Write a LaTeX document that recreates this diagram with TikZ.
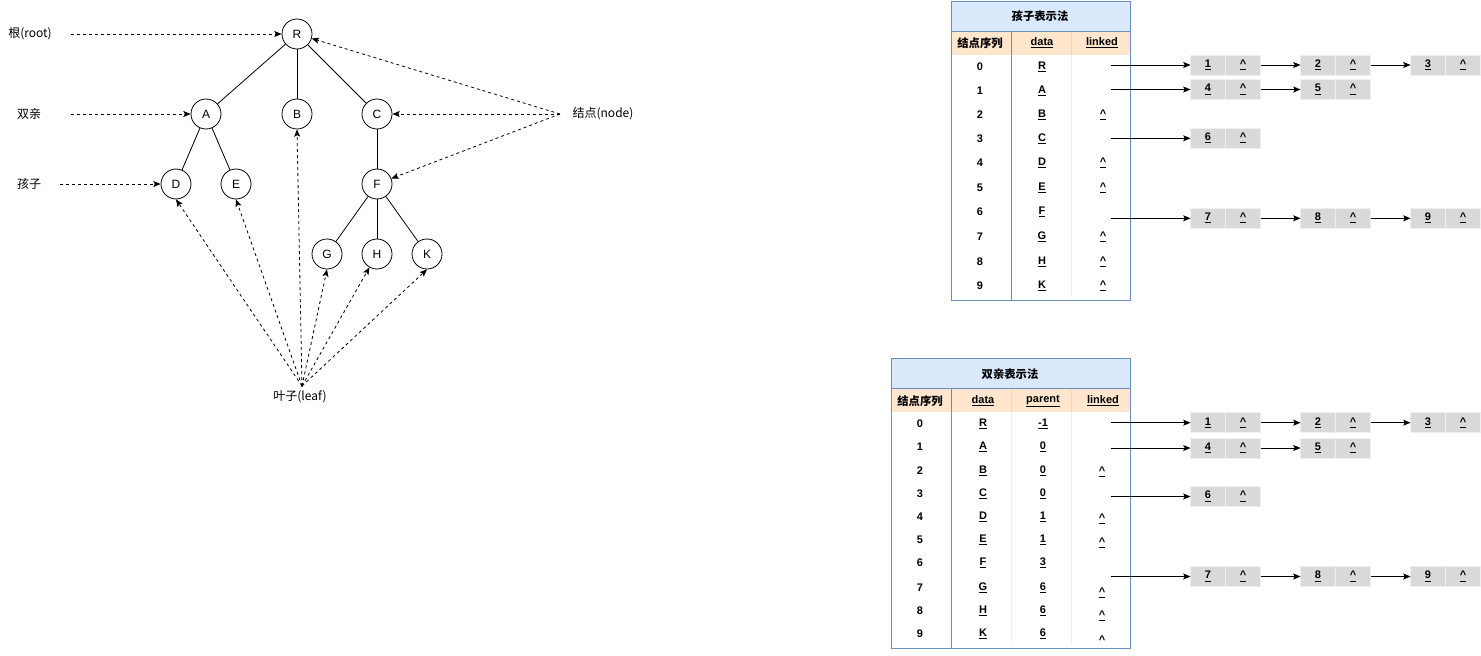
\documentclass[tikz,border=0pt]{standalone}
\usepackage{fontspec}
\setmainfont{Liberation Sans}
\newfontfamily\cjk{Noto Sans CJK SC}
\usetikzlibrary{positioning,arrows.meta}
\definecolor{hdrblue}{HTML}{DAE8FC}
\definecolor{hdrline}{HTML}{6C8EBF}
\definecolor{colhdr}{HTML}{FFE6CC}
\definecolor{colsep}{HTML}{F5D9BC}
\tikzset{
  tnode/.style={draw,circle,minimum size=22.5pt,inner sep=0pt,font=\fontsize{9}{11}\selectfont},
  lbl/.style={font=\cjk\fontsize{9}{11}\selectfont,inner sep=1pt},
  hint/.style={->,dash pattern=on 2.25pt off 2.25pt},
  cellt/.style={font=\bfseries\fontsize{8.25}{10}\selectfont,inner sep=1pt},
  cjkt/.style={font=\cjk\bfseries\fontsize{8.5}{10}\selectfont,inner sep=1pt},
  lcell/.style={fill=gray!30,draw=gray!12,minimum width=26.25pt,minimum height=15pt,inner sep=0pt,outer sep=0pt,font=\bfseries\fontsize{8.25}{10}\selectfont},
}
\newcommand{\nil}{\underline{\textasciicircum}}
\begin{document}
\begin{tikzpicture}[x=0.75pt,y=-0.75pt,semithick,>={Stealth[length=5.5pt,width=4.5pt,inset=1.2pt]}]
\useasboundingbox (0,0) rectangle (1481,656);
% tree
\node[tnode] (R) at (297,34) {R};
\node[tnode] (A) at (206,114) {A};
\node[tnode] (B) at (297,114) {B};
\node[tnode] (C) at (377,114) {C};
\node[tnode] (D) at (176,184) {D};
\node[tnode] (E) at (236,184) {E};
\node[tnode] (F) at (377,184) {F};
\node[tnode] (G) at (327,254) {G};
\node[tnode] (H) at (377,254) {H};
\node[tnode] (K) at (427,254) {K};
\draw (R) -- (A);
\draw (R) -- (B);
\draw (R) -- (C);
\draw (A) -- (D);
\draw (A) -- (E);
\draw (C) -- (F);
\draw (F) -- (G);
\draw (F) -- (H);
\draw (F) -- (K);
\node[lbl] (rootlbl) at (30,34) {根(root)};
\node[lbl] (parlbl) at (29,114) {双亲};
\node[lbl] (kidlbl) at (29,184) {孩子};
\node[lbl] (nodelbl) at (603,114) {结点(node)};
\node[lbl] (leaflbl) at (300,397) {叶子(leaf)};
\coordinate (rootfrom) at (71,34);
\coordinate (parfrom) at (71,114);
\coordinate (kidfrom) at (60,184);
\coordinate (nodefrom) at (560,114);
\coordinate (leafpt) at (302,386);
\draw[hint] (rootfrom) -- (R);
\draw[hint] (parfrom) -- (A);
\draw[hint] (kidfrom) -- (D);
\draw[hint] (nodefrom) -- (R);
\draw[hint] (nodefrom) -- (C);
\draw[hint] (nodefrom) -- (F);
\fill (leafpt) circle (1.2);
\draw[hint] (leafpt) -- (D.south);
\draw[hint] (leafpt) -- (E.south);
\draw[hint] (leafpt) -- (B.south);
\draw[hint] (leafpt) -- (G.south);
\draw[hint] (leafpt) -- (H);
\draw[hint] (leafpt) -- (K.south);
% child representation
\fill[hdrblue] (951,1) rectangle (1130,31);
\fill[colhdr] (951,31) rectangle (1130,55);
\draw[gray!12] (1071,55) -- (1071,297);
\draw[colsep] (1071,31) -- (1071,55);
\draw[hdrline] (951,1) rectangle (1130,300);
\draw[hdrline] (951,31) -- (1130,31);
\draw[hdrline] (1011,31) -- (1011,300);
\node[cjkt] (c1title) at (1040,16) {孩子表示法};
\node[cjkt] (c1hi) at (980,43) {结点序列};
\node[cellt] (c1hd) at (1042,43) {\underline{data}};
\node[cellt] (c1hk) at (1102,43) {\underline{linked}};
\node[cellt] (c1i0) at (980,67) {0};
\node[cellt] (c1i1) at (980,91) {1};
\node[cellt] (c1i2) at (980,115) {2};
\node[cellt] (c1i3) at (980,139) {3};
\node[cellt] (c1i4) at (980,163) {4};
\node[cellt] (c1i5) at (980,188) {5};
\node[cellt] (c1i6) at (980,212) {6};
\node[cellt] (c1i7) at (980,237) {7};
\node[cellt] (c1i8) at (980,262) {8};
\node[cellt] (c1i9) at (980,286) {9};
\node[cellt] (c1d0) at (1042,67) {\underline{R}};
\node[cellt] (c1d1) at (1042,91) {\underline{A}};
\node[cellt] (c1d2) at (1042,115) {\underline{B}};
\node[cellt] (c1d3) at (1042,139) {\underline{C}};
\node[cellt] (c1d4) at (1042,163) {\underline{D}};
\node[cellt] (c1d5) at (1042,188) {\underline{E}};
\node[cellt] (c1d6) at (1042,212) {\underline{F}};
\node[cellt] (c1d7) at (1042,237) {\underline{G}};
\node[cellt] (c1d8) at (1042,262) {\underline{H}};
\node[cellt] (c1d9) at (1042,286) {\underline{K}};
\node[cellt] (c1k2) at (1103,115) {\nil};
\node[cellt] (c1k4) at (1103,163) {\nil};
\node[cellt] (c1k5) at (1103,188) {\nil};
\node[cellt] (c1k7) at (1103,237) {\nil};
\node[cellt] (c1k8) at (1103,262) {\nil};
\node[cellt] (c1k9) at (1103,286) {\nil};
\node[lcell] (c1v) at (1208,65) {\underline{1}};
\node[lcell,right=0pt of c1v] (c1n) {\nil};
\node[lcell] (c2v) at (1318,65) {\underline{2}};
\node[lcell,right=0pt of c2v] (c2n) {\nil};
\node[lcell] (c3v) at (1428,65) {\underline{3}};
\node[lcell,right=0pt of c3v] (c3n) {\nil};
\node[lcell] (c4v) at (1208,89.5) {\underline{4}};
\node[lcell,right=0pt of c4v] (c4n) {\nil};
\node[lcell] (c5v) at (1318,89.5) {\underline{5}};
\node[lcell,right=0pt of c5v] (c5n) {\nil};
\node[lcell] (c6v) at (1208,138.3) {\underline{6}};
\node[lcell,right=0pt of c6v] (c6n) {\nil};
\node[lcell] (c7v) at (1208,218.3) {\underline{7}};
\node[lcell,right=0pt of c7v] (c7n) {\nil};
\node[lcell] (c8v) at (1318,218.3) {\underline{8}};
\node[lcell,right=0pt of c8v] (c8n) {\nil};
\node[lcell] (c9v) at (1428,218.3) {\underline{9}};
\node[lcell,right=0pt of c9v] (c9n) {\nil};
\coordinate (c1s0) at (1111,65);
\coordinate (c1s1) at (1111,89.5);
\coordinate (c1s3) at (1111,138.3);
\coordinate (c1s6) at (1111,218.3);
\draw[->] (c1s0) -- (c1v);
\draw[->] (c1n) -- (c2v);
\draw[->] (c2n) -- (c3v);
\draw[->] (c1s1) -- (c4v);
\draw[->] (c4n) -- (c5v);
\draw[->] (c1s3) -- (c6v);
\draw[->] (c1s6) -- (c7v);
\draw[->] (c7n) -- (c8v);
\draw[->] (c8n) -- (c9v);
% parent representation
\fill[hdrblue] (891,358) rectangle (1130,388);
\fill[colhdr] (891,388) rectangle (1130,412);
\draw[gray!12] (1011,412) -- (1011,645);
\draw[gray!12] (1071,412) -- (1071,645);
\draw[colsep] (1011,388) -- (1011,412);
\draw[colsep] (1071,388) -- (1071,412);
\draw[hdrline] (891,358) rectangle (1130,648);
\draw[hdrline] (891,388) -- (1130,388);
\draw[hdrline] (951,388) -- (951,648);
\node[cjkt] (p1title) at (1010,374) {双亲表示法};
\node[cjkt] (p1hi) at (920,401) {结点序列};
\node[cellt] (p1hd) at (983,401) {\underline{data}};
\node[cellt] (p1hp) at (1043,401) {\underline{parent}};
\node[cellt] (p1hk) at (1103,401) {\underline{linked}};
\node[cellt] (p1i0) at (920,424) {0};
\node[cellt] (p1i1) at (920,447) {1};
\node[cellt] (p1i2) at (920,471) {2};
\node[cellt] (p1i3) at (920,494) {3};
\node[cellt] (p1i4) at (920,517) {4};
\node[cellt] (p1i5) at (920,540) {5};
\node[cellt] (p1i6) at (920,563) {6};
\node[cellt] (p1i7) at (920,588) {7};
\node[cellt] (p1i8) at (920,611) {8};
\node[cellt] (p1i9) at (920,634) {9};
\node[cellt] (p1d0) at (983,424) {\underline{R}};
\node[cellt] (p1d1) at (983,447) {\underline{A}};
\node[cellt] (p1d2) at (983,471) {\underline{B}};
\node[cellt] (p1d3) at (983,494) {\underline{C}};
\node[cellt] (p1d4) at (983,517) {\underline{D}};
\node[cellt] (p1d5) at (983,540) {\underline{E}};
\node[cellt] (p1d6) at (983,563) {\underline{F}};
\node[cellt] (p1d7) at (983,588) {\underline{G}};
\node[cellt] (p1d8) at (983,611) {\underline{H}};
\node[cellt] (p1d9) at (983,634) {\underline{K}};
\node[cellt] (p1p0) at (1043,424) {\underline{-1}};
\node[cellt] (p1p1) at (1043,447) {\underline{0}};
\node[cellt] (p1p2) at (1043,471) {\underline{0}};
\node[cellt] (p1p3) at (1043,494) {\underline{0}};
\node[cellt] (p1p4) at (1043,517) {\underline{1}};
\node[cellt] (p1p5) at (1043,540) {\underline{1}};
\node[cellt] (p1p6) at (1043,563) {\underline{3}};
\node[cellt] (p1p7) at (1043,588) {\underline{6}};
\node[cellt] (p1p8) at (1043,611) {\underline{6}};
\node[cellt] (p1p9) at (1043,634) {\underline{6}};
\node[cellt] (p1k2) at (1102,472) {\nil};
\node[cellt] (p1k4) at (1102,519) {\nil};
\node[cellt] (p1k5) at (1102,543) {\nil};
\node[cellt] (p1k7) at (1102,593) {\nil};
\node[cellt] (p1k8) at (1102,616) {\nil};
\node[cellt] (p1k9) at (1102,640) {\textasciicircum};
\node[lcell] (p1v) at (1208,422.7) {\underline{1}};
\node[lcell,right=0pt of p1v] (p1n) {\nil};
\node[lcell] (p2v) at (1318,422.7) {\underline{2}};
\node[lcell,right=0pt of p2v] (p2n) {\nil};
\node[lcell] (p3v) at (1428,422.7) {\underline{3}};
\node[lcell,right=0pt of p3v] (p3n) {\nil};
\node[lcell] (p4v) at (1208,448) {\underline{4}};
\node[lcell,right=0pt of p4v] (p4n) {\nil};
\node[lcell] (p5v) at (1318,448) {\underline{5}};
\node[lcell,right=0pt of p5v] (p5n) {\nil};
\node[lcell] (p6v) at (1208,496.5) {\underline{6}};
\node[lcell,right=0pt of p6v] (p6n) {\nil};
\node[lcell] (p7v) at (1208,576.5) {\underline{7}};
\node[lcell,right=0pt of p7v] (p7n) {\nil};
\node[lcell] (p8v) at (1318,576.5) {\underline{8}};
\node[lcell,right=0pt of p8v] (p8n) {\nil};
\node[lcell] (p9v) at (1428,576.5) {\underline{9}};
\node[lcell,right=0pt of p9v] (p9n) {\nil};
\coordinate (p1s0) at (1111,422.7);
\coordinate (p1s1) at (1111,448);
\coordinate (p1s3) at (1111,496.5);
\coordinate (p1s6) at (1111,576.5);
\draw[->] (p1s0) -- (p1v);
\draw[->] (p1n) -- (p2v);
\draw[->] (p2n) -- (p3v);
\draw[->] (p1s1) -- (p4v);
\draw[->] (p4n) -- (p5v);
\draw[->] (p1s3) -- (p6v);
\draw[->] (p1s6) -- (p7v);
\draw[->] (p7n) -- (p8v);
\draw[->] (p8n) -- (p9v);
\end{tikzpicture}
\end{document}
